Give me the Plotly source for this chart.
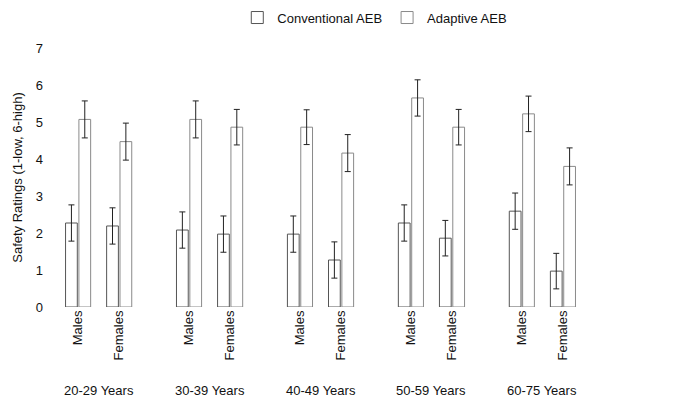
import plotly.graph_objects as go

age_groups = ["20-29 Years", "30-39 Years", "40-49 Years", "50-59 Years", "60-75 Years"]
genders = ["Males", "Females"]

conventional = [2.27, 2.19, 2.08, 1.97, 1.97, 1.27, 2.27, 1.86, 2.59, 0.97]
conventional_err = [0.49, 0.49, 0.49, 0.49, 0.49, 0.49, 0.49, 0.48, 0.49, 0.48]
adaptive = [5.07, 4.47, 5.07, 4.86, 4.86, 4.16, 5.65, 4.86, 5.22, 3.80]
adaptive_err = [0.50, 0.50, 0.50, 0.48, 0.47, 0.50, 0.49, 0.48, 0.48, 0.50]

group_step = 2.7
xpos = []
xlabels = []
for g, _ in enumerate(age_groups):
    for k, gen in enumerate(genders):
        xpos.append(g * group_step + k)
        xlabels.append(gen)

font_family = "Liberation Sans, Arial, sans-serif"

fig = go.Figure()
fig.add_trace(go.Bar(
    name="Conventional AEB", x=xpos, y=conventional,
    marker=dict(color="white", line=dict(color="#555555", width=1)),
    error_y=dict(type="data", array=conventional_err, color="#222222", thickness=1, width=3),
))
fig.add_trace(go.Bar(
    name="Adaptive AEB", x=xpos, y=adaptive,
    marker=dict(color="white", line=dict(color="#8a8a8a", width=1)),
    error_y=dict(type="data", array=adaptive_err, color="#222222", thickness=1, width=3),
))

annotations = []
for g, name in enumerate(age_groups):
    annotations.append(dict(
        x=g * group_step + 0.5, y=-0.324, xref="x", yref="paper",
        text=name, showarrow=False, xanchor="center", yanchor="middle",
        font=dict(family=font_family, size=13, color="#111111"),
    ))

fig.update_layout(
    width=673, height=416,
    margin=dict(l=36, r=70, t=40, b=117, autoexpand=False),
    paper_bgcolor="white", plot_bgcolor="white",
    barmode="group", bargap=0.35, bargroupgap=0.12,
    font=dict(family=font_family, size=13, color="#111111"),
    legend=dict(orientation="h", xref="container", yref="container",
                x=0.545, xanchor="center", y=0.977, yanchor="middle",
                font=dict(size=13), itemwidth=30, tracegroupgap=0),
    xaxis=dict(range=[-0.83, 12.97], tickmode="array", tickvals=xpos, ticktext=xlabels,
               tickangle=-90, showgrid=False, zeroline=False, showline=False, ticks="",
               automargin=False, tickfont=dict(size=13)),
    yaxis=dict(range=[0, 7], dtick=1, showgrid=False, zeroline=False, showline=False,
               title=dict(text="Safety Ratings (1-low, 6-high)", font=dict(size=13), standoff=10),
               ticks="", automargin=False, tickfont=dict(size=13)),
    annotations=annotations,
)

fig.write_html("out.html")
